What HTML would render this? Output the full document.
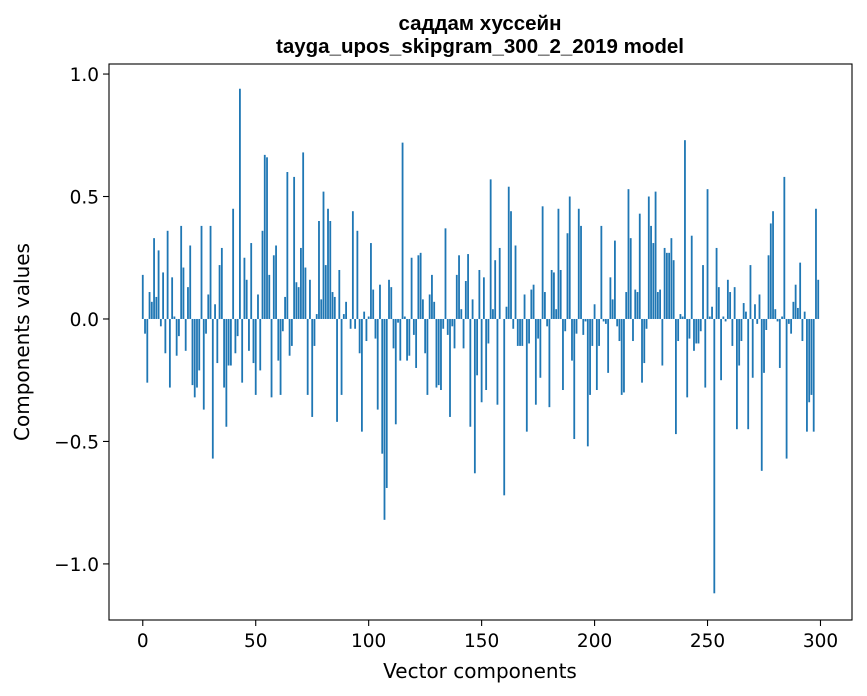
<!DOCTYPE html>
<html><head><meta charset="utf-8"><style>
html,body{margin:0;padding:0;background:#fff;}
svg{display:block;font-family:"DejaVu Sans","Liberation Sans",sans-serif;}
</style></head><body>
<svg id="chart" width="867" height="696" viewBox="0 0 867 696" xmlns="http://www.w3.org/2000/svg">
<rect width="867" height="696" fill="#fff"/>
<text x="480" y="30" text-anchor="middle" font-size="20.5" font-weight="bold" font-family="Liberation Sans, sans-serif">саддам хуссейн</text>
<text x="480" y="53" text-anchor="middle" font-size="20.5" font-weight="bold" font-family="Liberation Sans, sans-serif">tayga_upos_skipgram_300_2_2019 model</text>
<g id="bars"></g>
<g id="axes"></g>
<text x="480" y="678" text-anchor="middle" font-size="20">Vector components</text>
<text transform="translate(29,342) rotate(-90)" text-anchor="middle" font-size="20">Components values</text>
</svg>
<script>
const values = [
0.18,-0.06,-0.26,0.11,0.07,0.33,0.09,0.28,-0.03,0.19,
-0.14,0.36,-0.28,0.17,0.01,-0.15,-0.07,0.38,0.21,-0.13,
0.13,0.30,-0.27,-0.32,-0.28,-0.21,0.38,-0.37,-0.06,0.10,
0.38,-0.57,0.06,-0.18,0.22,0.29,-0.28,-0.44,-0.19,-0.19,
0.45,-0.14,-0.07,0.94,-0.26,0.25,0.16,-0.13,0.31,-0.18,
-0.31,0.10,-0.21,0.36,0.67,0.66,0.18,-0.32,0.26,0.30,
-0.17,-0.31,-0.05,0.09,0.60,-0.15,-0.11,0.58,0.15,0.13,
0.29,0.68,0.21,-0.31,0.16,-0.40,-0.11,0.02,0.40,0.08,
0.52,0.22,0.45,0.40,0.11,0.09,-0.42,0.20,-0.31,0.02,
0.07,0.0,-0.04,0.44,-0.04,0.36,-0.14,-0.46,0.03,-0.09,
0.01,0.31,0.12,-0.08,-0.37,0.14,-0.55,-0.82,-0.69,0.16,
0.13,-0.12,-0.43,-0.015,-0.17,0.72,0.01,-0.17,-0.15,0.25,
-0.065,-0.20,0.26,0.27,0.08,-0.14,-0.31,0.10,0.18,0.07,
-0.28,-0.27,-0.29,-0.04,0.37,-0.065,-0.40,-0.03,-0.12,0.18,
0.26,0.04,-0.12,0.155,0.265,-0.44,0.08,-0.63,-0.23,0.20,
-0.34,0.17,-0.29,-0.10,0.57,0.04,0.24,-0.35,0.29,0.0,
-0.72,0.05,0.54,0.44,-0.04,0.30,-0.11,-0.11,-0.11,0.10,
-0.46,-0.10,0.12,0.14,-0.35,-0.08,-0.24,0.46,0.11,-0.03,
-0.36,0.20,0.19,0.04,0.45,0.20,-0.29,-0.05,0.35,0.50,
-0.17,-0.49,-0.06,0.45,0.38,-0.065,-0.01,-0.52,-0.31,-0.11,
0.06,-0.29,-0.11,0.38,-0.01,-0.02,-0.22,0.17,0.08,0.32,
-0.03,-0.09,-0.31,-0.30,0.11,0.53,0.33,-0.09,0.12,0.11,
0.43,-0.26,-0.18,-0.04,0.50,0.38,0.31,0.52,0.11,0.12,
-0.19,0.29,0.27,0.27,0.33,0.24,-0.47,-0.09,0.02,0.01,
0.73,-0.32,-0.08,0.34,-0.13,-0.10,-0.10,-0.05,0.22,-0.28,
0.53,0.01,0.05,-1.12,0.29,0.13,-0.25,0.01,-0.01,0.16,
0.11,-0.11,0.13,-0.45,-0.19,-0.09,0.065,0.03,-0.45,0.22,
-0.24,0.06,-0.02,0.10,-0.62,-0.22,-0.045,0.26,0.39,0.44,
0.04,-0.01,-0.20,0.01,0.58,-0.57,-0.02,-0.06,0.07,0.14,
0.045,0.23,-0.09,0.03,-0.46,-0.34,-0.31,-0.46,0.45,0.16
];
const xTicks = [0,50,100,150,200,250,300];
const yTicks = [1.0,0.5,0.0,-0.5,-1.0];
const yTickLabels = ["1.0","0.5","0.0","\u22120.5","\u22121.0"];

const NS="http://www.w3.org/2000/svg";
const L=109,R=852,T=64,B=620;
const xMin=-14.95,xMax=313.95,yMin=-1.229,yMax=1.041;
const xs=v=>L+(v-xMin)/(xMax-xMin)*(R-L);
const ys=v=>T+(yMax-v)/(yMax-yMin)*(B-T);
function mk(tag,attrs){const e=document.createElementNS(NS,tag);for(const k in attrs)e.setAttribute(k,attrs[k]);return e;}
const bars=document.getElementById('bars');
const bw=(xs(0.8)-xs(0));
values.forEach((v,i)=>{
  const y0=ys(0),y1=ys(v);
  const r=mk('rect',{x:xs(i)-bw/2,y:Math.min(y0,y1),width:bw,height:Math.max(Math.abs(y1-y0),0.01),fill:'#1f77b4'});
  
  
  bars.appendChild(r);
});
const axes=document.getElementById('axes');
const frame=mk('rect',{x:L,y:T,width:R-L,height:B-T,fill:'none',stroke:'#000','stroke-width':1.1});


axes.appendChild(frame);
xTicks.forEach(t=>{
  const x=xs(t);
  const ln=mk('line',{x1:x,x2:x,y1:B,y2:B+6,stroke:'#000','stroke-width':1.1});
  
  
  axes.appendChild(ln);
  const tx=mk('text',{x:x,y:B+27,'text-anchor':'middle','font-size':18.5});
  tx.textContent=String(t);
  
  
  axes.appendChild(tx);
});
yTicks.forEach((t,k)=>{
  const y=ys(t);
  const ln=mk('line',{x1:L-6,x2:L,y1:y,y2:y,stroke:'#000','stroke-width':1.1});
  
  
  axes.appendChild(ln);
  const tx=mk('text',{x:L-10,y:y+7,'text-anchor':'end','font-size':18.5});
  tx.textContent=yTickLabels[k];
  
  
  axes.appendChild(tx);
});
</script>
</body></html>
